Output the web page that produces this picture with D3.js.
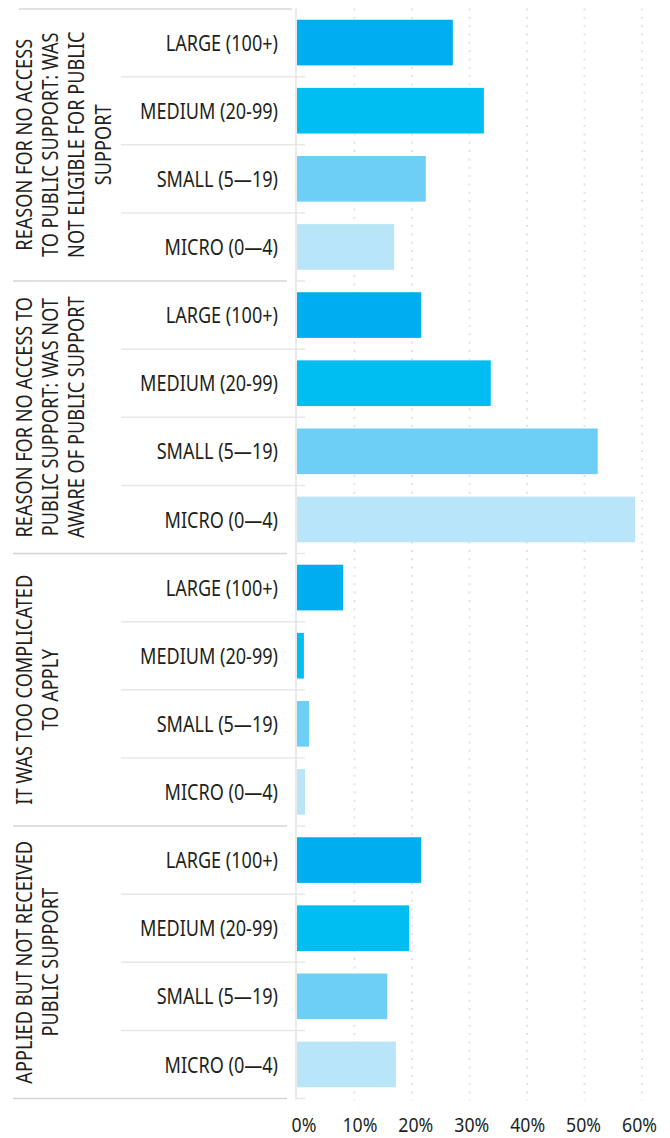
<!DOCTYPE html>
<html>
<head>
<meta charset="utf-8">
<script src="https://cdn.jsdelivr.net/npm/d3@7"></script>
<style>
  html, body { margin: 0; padding: 0; background: #fff; }
  svg { display: block; }
  text { font-family: "Noto Sans", "Open Sans", sans-serif; fill: #231f20; }
</style>
</head>
<body>
<svg id="chart" width="670" height="1138"></svg>
<script>
// ---- data ----
const groups = [
  ["REASON FOR NO ACCESS", "TO PUBLIC SUPPORT: WAS", "NOT ELIGIBLE FOR PUBLIC", "SUPPORT"],
  ["REASON FOR NO ACCESS TO", "PUBLIC SUPPORT: WAS NOT", "AWARE OF PUBLIC SUPPORT"],
  ["IT WAS TOO COMPLICATED", "TO APPLY"],
  ["APPLIED BUT NOT RECEIVED", "PUBLIC SUPPORT"]
];
const sizes = ["LARGE (100+)", "MEDIUM (20-99)", "SMALL (5\u201419)", "MICRO (0\u20144)"];
const notEligible   = [27.1, 32.5, 22.4, 16.9];
const notAware      = [21.6, 33.7, 52.3, 58.8];
const tooComplicated = [8.0, 1.2, 2.1, 1.4];
const appliedNotReceived = [21.6, 19.5, 15.7, 17.2];
const seriesValues = [notEligible, notAware, tooComplicated, appliedNotReceived];
const xTicks = [0, 10, 20, 30, 40, 50, 60];
const sizeColors = ["#00aeef", "#00bdf2", "#6dcff6", "#b9e5f9"];

// ---- rows ----
const rows = [];
seriesValues.forEach((vals, gi) => {
  vals.forEach((v, si) => rows.push({ key: gi + "-" + si, group: gi, size: si, value: v }));
});

const svg = d3.select("#chart");

// condense factor helper: measure a sample string and fit it to a target width
function condense(sample, fontSize, targetWidth) {
  const t = svg.append("text").attr("font-size", fontSize).text(sample);
  const w = t.node().getComputedTextLength();
  t.remove();
  return w > 0 ? targetWidth / w : 1;
}
const sxSize = condense("MEDIUM (20-99)", 22.5, 138);
const sxGroup = condense("REASON FOR NO ACCESS", 22, 212);
const sxAxis = condense("60%", 20, 35);

const x = d3.scaleLinear().domain([0, 60]).range([297, 642]);
const xLabel = d3.scaleLinear().domain([0, 60]).range([304, 639.5]);
const y = d3.scaleBand().domain(rows.map(d => d.key)).range([8.5, 1098.5])
  .paddingInner(0.33).paddingOuter(0.165);
const step = y.step();
const top0 = y.range()[0];
const bottom0 = y.range()[1];

// gridlines (dotted)
svg.append("g").selectAll("line").data(xTicks.filter(t => t > 0)).join("line")
  .attr("x1", d => x(d)).attr("x2", d => x(d))
  .attr("y1", top0).attr("y2", bottom0 + 2)
  .attr("stroke", "#e3e3e3").attr("stroke-width", 2)
  .attr("stroke-dasharray", "2 6.33");

// top line
svg.append("line").attr("x1", 19).attr("x2", 292).attr("y1", top0 + 0.5).attr("y2", top0 + 0.5)
  .attr("stroke", "#d9d9d9").attr("stroke-width", 1.5);

// row boundaries
rows.forEach((d, i) => {
  const yb = top0 + (i + 1) * step;
  const isGroupEnd = (d.size === sizes.length - 1);
  if (isGroupEnd) {
    svg.append("line").attr("x1", 13).attr("x2", 287).attr("y1", yb).attr("y2", yb)
      .attr("stroke", "#d4d4d4").attr("stroke-width", 1.5);
    svg.append("line").attr("x1", 297).attr("x2", 305).attr("y1", yb).attr("y2", yb)
      .attr("stroke", "#e6e6e6").attr("stroke-width", 1.5);
  } else {
    svg.append("line").attr("x1", 121).attr("x2", 305).attr("y1", yb).attr("y2", yb)
      .attr("stroke", "#e8e8e8").attr("stroke-width", 1.5);
  }
});

// axis vertical line
svg.append("line").attr("x1", 296).attr("x2", 296).attr("y1", top0).attr("y2", bottom0 + 1)
  .attr("stroke", "#e3e3e3").attr("stroke-width", 1.5);

// bars
svg.append("g").selectAll("rect").data(rows).join("rect")
  .attr("x", x(0)).attr("y", d => y(d.key))
  .attr("width", d => x(d.value) - x(0))
  .attr("height", y.bandwidth())
  .attr("fill", d => sizeColors[d.size]);

// size labels
svg.append("g").selectAll("text").data(rows).join("text")
  .attr("transform", d => `translate(278,${y(d.key) + y.bandwidth() / 2}) scale(${sxSize},1)`)
  .attr("dy", "0.36em")
  .attr("text-anchor", "end")
  .attr("font-size", 22.5)
  .text(d => sizes[d.size]);

// group labels (rotated)
groups.forEach((lines, gi) => {
  const first = rows[gi * sizes.length].key;
  const last = rows[gi * sizes.length + sizes.length - 1].key;
  const cy = (y(first) + y(last) + y.bandwidth()) / 2;
  const t = svg.append("text")
    .attr("transform", `translate(31.5,${cy}) rotate(-90) scale(${sxGroup},1)`)
    .attr("text-anchor", "middle")
    .attr("font-size", 22);
  lines.forEach((ln, li) => {
    t.append("tspan").attr("x", 0).attr("y", li * 26.5).text(ln);
  });
});

// x axis labels
svg.append("g").selectAll("text").data(xTicks).join("text")
  .attr("transform", d => `translate(${xLabel(d)},1131.5) scale(${sxAxis},1)`)
  .attr("text-anchor", "middle")
  .attr("font-size", 20)
  .text(d => d + "%");
</script>
</body>
</html>
